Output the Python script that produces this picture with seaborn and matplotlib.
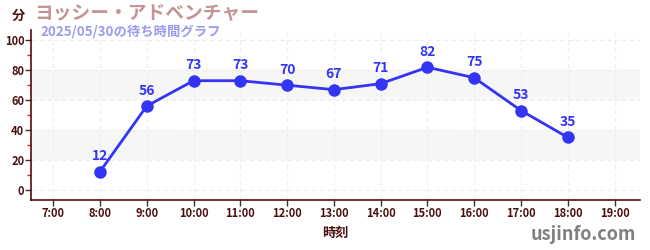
import matplotlib
matplotlib.use("Agg")
import matplotlib.pyplot as plt
import seaborn as sns
import pandas as pd
from matplotlib.ticker import MultipleLocator

hours = [8, 9, 10, 11, 12, 13, 14, 15, 16, 17, 18]
waits = [12, 56, 73, 73, 70, 67, 71, 82, 75, 53, 35]
tick_hours = list(range(7, 20))
tick_labels = [f"{h}:00" for h in tick_hours]
title = "ヨッシー・アドベンチャー"
subtitle = "2025/05/30の待ち時間グラフ"

sns.set_theme(style="white")
plt.rcParams['font.family'] = ['Noto Sans CJK JP', 'DejaVu Sans']

df = pd.DataFrame({"hour": hours, "wait": waits})

fig = plt.figure(figsize=(6.5, 2.5), dpi=100)
ax = fig.add_axes([0.048, 0.2, 0.937, 0.68])

for lo, hi in [(20, 40), (60, 80)]:
    ax.axhspan(lo, hi, color="#f6f6f6", zorder=0, lw=0)
for y in [0, 20, 40, 60, 80, 100]:
    ax.axhline(y, color="#ededed", lw=0.8, ls=(0, (4, 3)), zorder=0.5)
for h in tick_hours:
    ax.axvline(h, color="#ededed", lw=0.8, ls=(0, (4, 3)), zorder=0.5)

sns.lineplot(data=df, x="hour", y="wait", ax=ax, color="#3434f5", lw=2.0,
             marker="o", markersize=9, markeredgewidth=0, zorder=3)
for h, w in zip(hours, waits):
    ax.annotate(str(w), (h, w), xytext=(0, 6), textcoords="offset points",
                ha="center", va="bottom", color="#3434f5", fontsize=10,
                fontweight="bold")

ax.set_xlim(6.53, 19.55)
ax.set_ylim(-7, 107)
ax.set_xticks(tick_hours)
ax.set_xticklabels(tick_labels)
ax.set_yticks([0, 20, 40, 60, 80, 100])
ax.yaxis.set_minor_locator(MultipleLocator(10))
ax.tick_params(axis="y", which="minor", length=3, color="#dd2222", width=1, left=True)
ax.tick_params(axis="both", which="major", length=4, color="#333333", width=1,
               labelsize=8, labelcolor="#4a1010", left=True, bottom=True, pad=1)
for lab in ax.get_xticklabels() + ax.get_yticklabels():
    lab.set_fontweight("bold")

for s in ["top", "right"]:
    ax.spines[s].set_visible(False)
for s in ["left", "bottom"]:
    ax.spines[s].set_color("#5a0a0a")
    ax.spines[s].set_linewidth(1.2)

ax.set_xlabel("時刻", fontsize=9.5, fontweight="bold", color="#4a1010", labelpad=4)
ax.set_ylabel("")

fig.text(0.018, 0.935, "分", fontsize=9.5, fontweight="bold", color="#4a1010",
         ha="left", va="center")
fig.text(0.052, 0.945, title, fontsize=13.5, fontweight="bold", color="#c49494",
         ha="left", va="center")
fig.text(0.062, 0.875, subtitle, fontsize=9.6, fontweight="bold", color="#9b9bef",
         ha="left", va="center")
fig.text(0.978, 0.06, "usjinfo.com", fontsize=13, fontweight="bold", color="#808080",
         ha="right", va="center")

fig.savefig("out.png", dpi=100)
